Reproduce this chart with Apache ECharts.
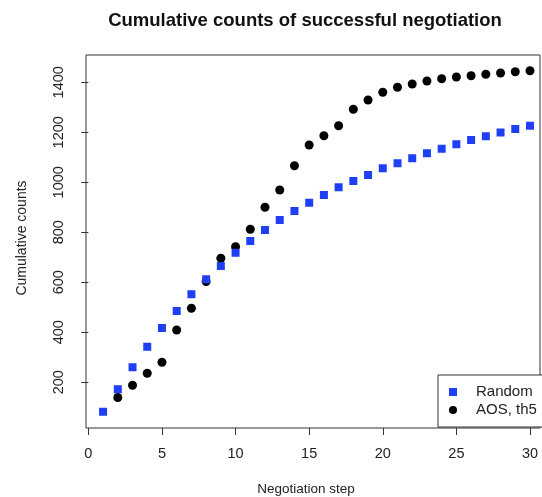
<!DOCTYPE html>
<html>
<head>
<meta charset="utf-8">
<script src="https://cdn.jsdelivr.net/npm/echarts@6/dist/echarts.min.js"></script>
<style>html,body{margin:0;padding:0;background:#fff}#c{width:542px;height:497px}</style>
</head>
<body>
<div id="c"></div>
<script>
var steps = [1,2,3,4,5,6,7,8,9,10,11,12,13,14,15,16,17,18,19,20,21,22,23,24,25,26,27,28,29,30];
var randomCounts = [82,172,260,342,417,485,552,612,665,718,765,809,849,885,918,949,980,1005,1029,1056,1076,1096,1116,1134,1152,1169,1184,1199,1213,1226];
var aosSteps = [2,3,4,5,6,7,8,9,10,11,12,13,14,15,16,17,18,19,20,21,22,23,24,25,26,27,28,29,30];
var aosCounts = [139,188,236,280,409,496,603,696,742,812,900,969,1066,1149,1186,1226,1292,1329,1360,1380,1393,1405,1414,1421,1426,1432,1437,1442,1446];
var xTicks = [0,5,10,15,20,25,30];
var yTicks = [200,400,600,800,1000,1200,1400];

var chart = echarts.init(document.getElementById('c'), null, {renderer:'canvas'});
var font = 'Liberation Sans, Arial, sans-serif';
chart.setOption({
  animation: false,
  backgroundColor: '#fff',
  grid: {left: 86, top: 55, right: 2, bottom: 69, show: true, borderColor: '#333', borderWidth: 1, backgroundColor: 'transparent'},
  xAxis: {
    type: 'value', min: -0.16, max: 30.68,
    axisLine: {show: false},
    splitLine: {show: false},
    axisTick: {show: true, inside: false, length: 7, lineStyle: {color: '#333'}, customValues: xTicks},
    axisLabel: {customValues: xTicks, color: '#222', fontSize: 14.5, fontFamily: font, margin: 18}
  },
  yAxis: {
    type: 'value', min: 17, max: 1509,
    axisLine: {show: false},
    splitLine: {show: false},
    axisTick: {show: true, inside: false, length: 7, lineStyle: {color: '#333'}, customValues: yTicks},
    axisLabel: {customValues: yTicks, color: '#222', fontSize: 14.5, fontFamily: font, rotate: 90, margin: 20,
      formatter: function(v){ return String(v); }}
  },
  legend: {
    orient: 'vertical', left: 438, top: 375,
    padding: [8, 30, 8, 11],
    itemGap: 0, itemWidth: 8, itemHeight: 8,
    borderColor: '#333', borderWidth: 1, borderRadius: 0, backgroundColor: '#fff',
    textStyle: {fontSize: 15, fontFamily: font, color: '#222', lineHeight: 18, padding: [0,0,0,14]},
    data: [{name: 'Random', icon: 'rect'}, {name: 'AOS, th5', icon: 'circle'}]
  },
  graphic: [
    {type: 'text', x: 305, y: 21, style: {text: 'Cumulative counts of successful negotiation', font: 'bold 18.5px ' + font, fill: '#111', textAlign: 'center', textVerticalAlign: 'middle'}},
    {type: 'text', x: 306, y: 489, style: {text: 'Negotiation step', font: '13.5px ' + font, fill: '#222', textAlign: 'center', textVerticalAlign: 'middle'}},
    {type: 'text', x: 22, y: 238, rotation: Math.PI / 2, style: {text: 'Cumulative counts', font: '14px ' + font, fill: '#222', textAlign: 'center', textVerticalAlign: 'middle'}}
  ],
  series: [
    {name: 'Random', type: 'scatter', symbol: 'rect', symbolSize: 8, z: 3, itemStyle: {color: '#1f3ff5', opacity: 1},
     data: steps.map(function(s, i){ return [s, randomCounts[i]]; })},
    {name: 'AOS, th5', type: 'scatter', symbol: 'circle', symbolSize: 9, z: 2, itemStyle: {color: '#000', opacity: 1},
     data: aosSteps.map(function(s, i){ return [s, aosCounts[i]]; })}
  ]
});
</script>
</body>
</html>
